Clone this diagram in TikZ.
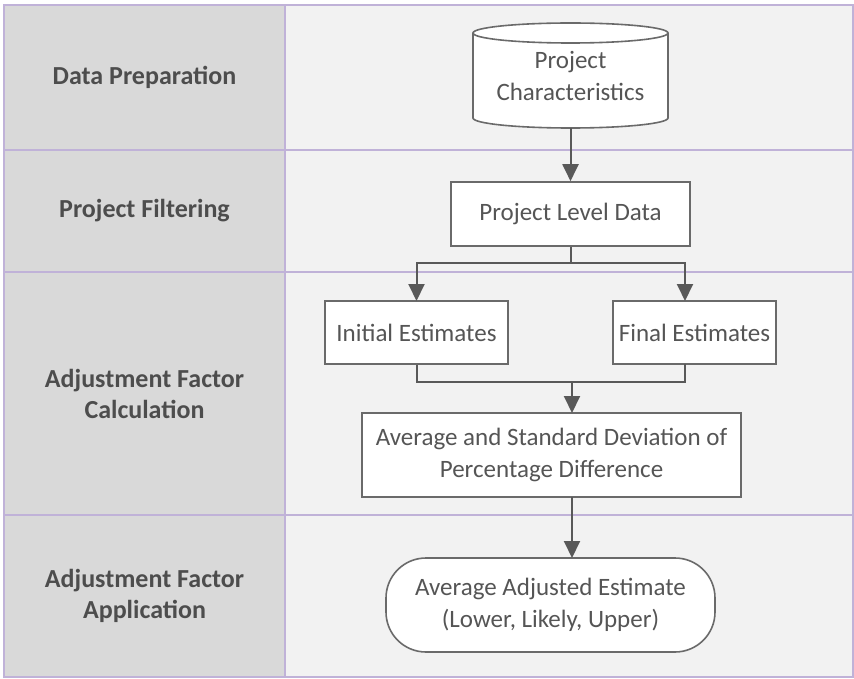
\documentclass[tikz,border=0pt]{standalone}
\usepackage{fontspec}
\setmainfont{Carlito}
\usetikzlibrary{arrows.meta}
\definecolor{lanegray}{HTML}{D9D9D9}
\definecolor{panegray}{HTML}{F2F2F2}
\definecolor{laneline}{HTML}{C0B2D8}
\definecolor{linkgray}{HTML}{595959}
\definecolor{txtgray}{HTML}{4D4D4D}
\definecolor{nodetxt}{HTML}{555555}
\tikzset{
  lanelabel/.style={font=\fontsize{26}{31}\selectfont\bfseries, text=txtgray, align=center},
  procbox/.style={draw=linkgray!90, line width=1.6pt, fill=white, font=\fontsize{25}{31.5}\selectfont, text=nodetxt, align=center, inner sep=0pt},
  link/.style={draw=linkgray, line width=2pt, -{Triangle[length=17pt,width=16pt]}},
  plainlink/.style={draw=linkgray, line width=2pt},
  sep/.style={draw=laneline, line width=2.5pt}
}
\begin{document}
\begin{tikzpicture}[x=1pt,y=-1pt]
\useasboundingbox (0,0) rectangle (854,679);
\fill[white] (0,0) rectangle (854,679);
\fill[lanegray] (4,5) rectangle (285,677);
\fill[panegray] (285,5) rectangle (853,677);
\draw[sep] (4,5) rectangle (853,677);
\draw[sep] (4,150) -- (853,150);
\draw[sep] (4,272) -- (853,272);
\draw[sep] (4,515) -- (853,515);
\draw[sep] (285,5) -- (285,677);

\node[lanelabel] (l1) at (144.5,77.5) {Data Preparation};
\node[lanelabel] (l2) at (144.5,211) {Project Filtering};
\node[lanelabel] (l3) at (144.5,393.5) {Adjustment Factor\\Calculation};
\node[lanelabel] (l4) at (144.5,596) {Adjustment Factor\\Application};

% cylinder
\draw[draw=linkgray!90, line width=1.6pt, fill=white]
  (473,33) -- (473,118) arc[start angle=180, end angle=0, x radius=97.5, y radius=10]
  -- (668,33) arc[start angle=0, end angle=-180, x radius=97.5, y radius=10] -- cycle;
\draw[draw=linkgray!90, line width=1.6pt]
  (473,33) arc[start angle=180, end angle=0, x radius=97.5, y radius=10];
\node[font=\fontsize{25}{31.5}\selectfont, text=nodetxt, align=center,
      minimum width=195pt, minimum height=105pt, inner sep=0pt] (pc) at (570.5,76) {Project\\Characteristics};
\coordinate (pcb) at (570.5,128);

\node[procbox, minimum width=239pt, minimum height=64pt] (pld) at (570.5,214) {Project Level Data};
\node[procbox, minimum width=183pt, minimum height=63pt] (ie) at (416.5,332.5) {Initial Estimates};
\node[procbox, minimum width=163pt, minimum height=63pt] (fe) at (694.5,332.5) {Final Estimates};
\node[procbox, minimum width=379pt, minimum height=84pt] (avg) at (551.5,455) {Average and Standard Deviation of\\Percentage Difference};
\node[procbox, rounded corners=40pt, minimum width=329pt, minimum height=94pt] (ade) at (550.5,605) {Average Adjusted Estimate\\(Lower, Likely, Upper)};

\coordinate (split) at (570.5,263);
\coordinate (merge) at (572,382);

\draw[link] (pcb) -- (pld.north);
\draw[plainlink] (pld.south) -- (split);
\draw[link] (split) -| (416.5,301);
\draw[link] (split) -| (685,301);
\draw[plainlink] (ie.south) |- (merge);
\draw[plainlink] (685,364) |- (merge);
\draw[link] (merge) -- (572,413);
\draw[link] (572,497) -- (572,558);
\end{tikzpicture}
\end{document}
